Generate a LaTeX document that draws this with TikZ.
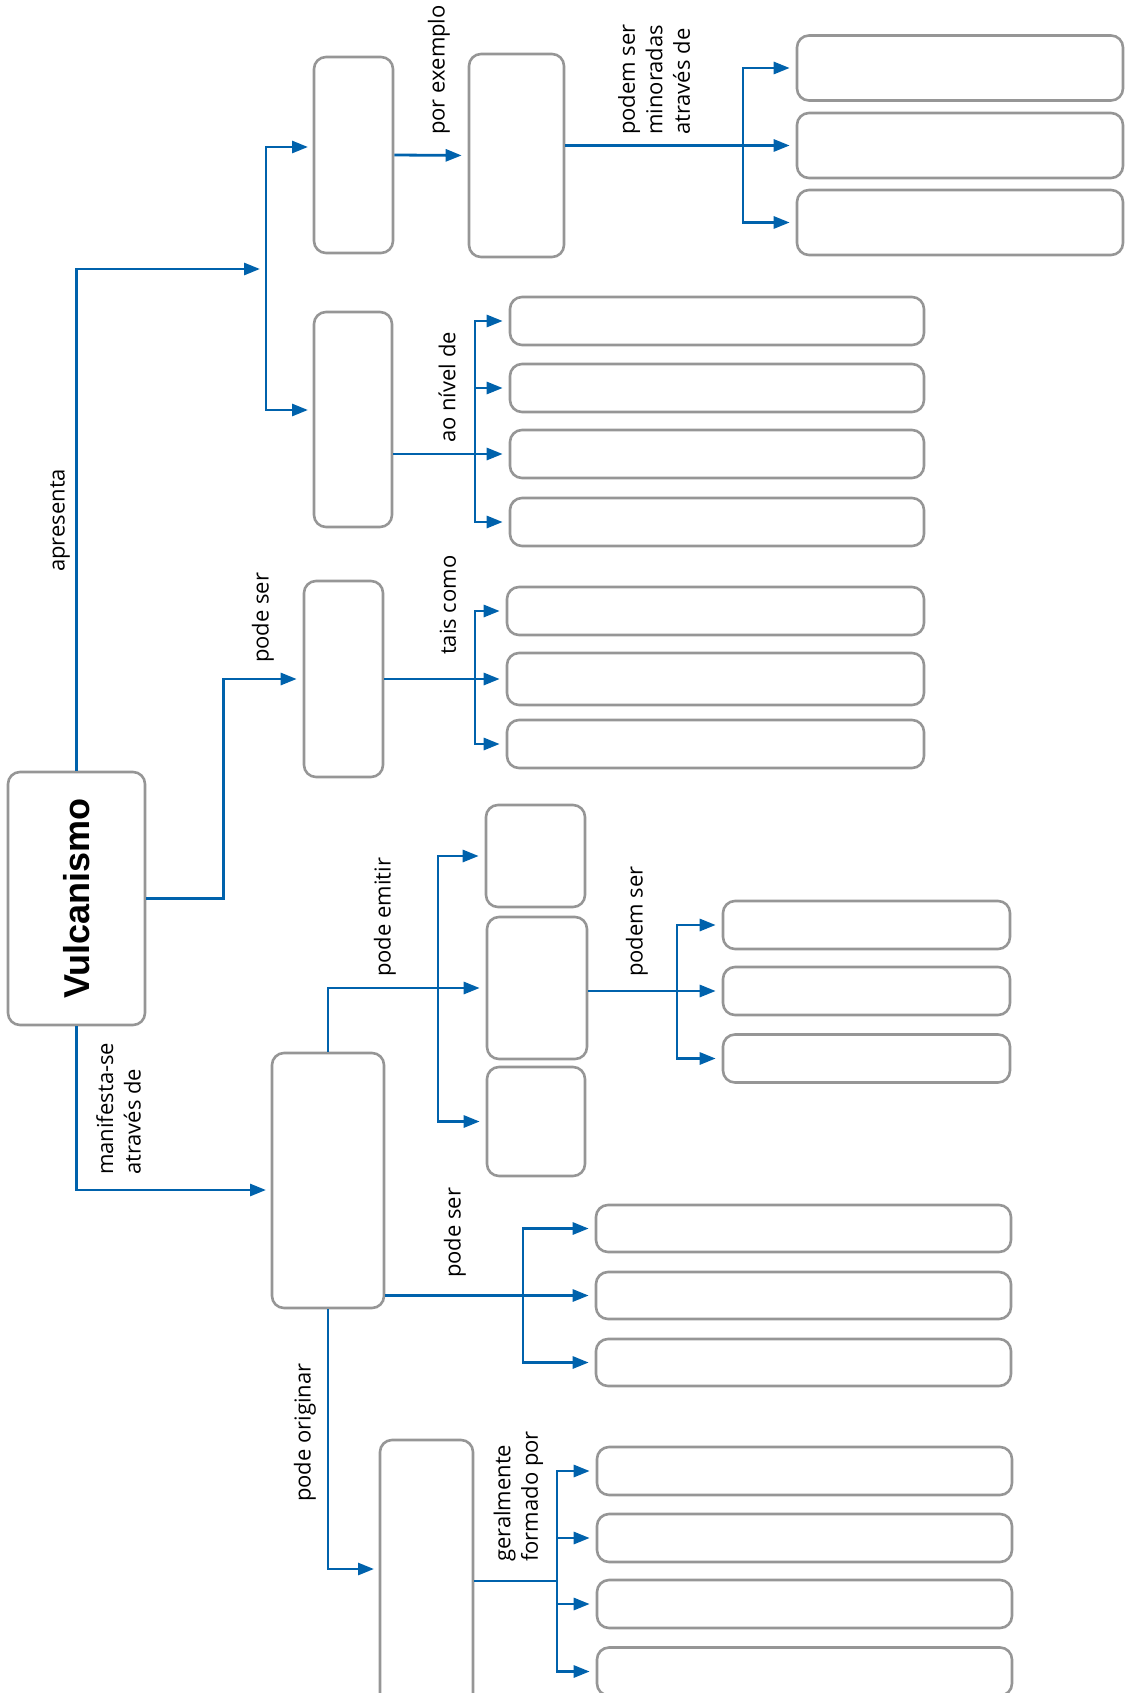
\documentclass[tikz,border=0pt]{standalone}
\usepackage{fontspec}
\setmainfont{Open Sans}
\newfontfamily\titlefont{Liberation Sans}
\usepackage{graphicx}
\usepackage{tikz}
\usetikzlibrary{arrows.meta,calc,positioning}

\definecolor{linkblue}{RGB}{0,98,172}
\definecolor{boxgray}{RGB}{150,150,150}
\newcommand{\lblfont}{\fontsize{22}{27.5}\selectfont}

\tikzset{
 box/.style={draw=boxgray, line width=2.6pt, rounded corners=12pt, inner sep=0pt},
 sz/.style 2 args={minimum width=#1, minimum height=#2},
 bline/.style={draw=linkblue, line width=2.8pt},
 arr/.style={bline, -{Triangle[length=16pt,width=12pt]}, shorten >=6pt},
 lbl/.style={rotate=90, anchor=west, inner sep=0pt, align=left, font=\lblfont},
}

\begin{document}
\begin{tikzpicture}[x=1pt, y=-1pt]
\useasboundingbox (0,0) rectangle (1125,1693);
\clip (0,0) rectangle (1125,1693);

% Main concept
\node[box, sz={137}{253}] (vulc) at (76.5,898.5)
 {\rotatebox{90}{\fontsize{36}{40}\titlefont\bfseries Vulcanismo}};

% Branch: apresenta
\node[box, sz={79}{196}] (a1) at (353.5,155) {};
\node[box, sz={78}{215}] (a2) at (353,419.5) {};
\node[box, sz={95}{203}] (a3) at (516.5,155.5) {};
\foreach \n/\y in {a/68, b/145.5, c/222.5}
 \node[box, sz={326}{65}] (a4\n) at (960,\y) {};
\foreach \n/\y in {a/321, b/388, c/454, d/522}
 \node[box, sz={414}{48}] (a5\n) at (717,\y) {};

\coordinate (ja) at (266,269);
\coordinate (a1in) at (314,147);
\coordinate (a2in) at (314,410);
\coordinate (sa4) at (743,0);
\coordinate (sa5) at (475,0);

\draw[arr] (vulc.north) |- (ja);
\draw[arr] (ja) |- (a1in);
\draw[arr] (ja) |- (a2in);
\draw[arr] (a1.east) -- (a3.west);
\draw[arr] (a3.east |- a4b) -- (a4b.west);
\foreach \n in {a,c}
 \draw[arr] (sa4 |- a4b) |- (a4\n.west);
\draw[arr] (a2.east |- a5c) -- (a5c.west);
\foreach \n in {a,b,d}
 \draw[arr] (sa5 |- a5c) |- (a5\n.west);

\node[lbl] (l-apr) at (60,572) {apresenta};
\node[lbl] (l-pex) at (439,135) {por exemplo};
\node[lbl] (l-min) at (654,135) {podem ser\\minoradas\\através de};
\node[lbl] (l-niv) at (447,443) {ao nível de};

% Branch: pode ser
\node[box, sz={79}{196}] (b1) at (343.5,679) {};
\foreach \n/\y/\h in {a/611/48, b/679/52, c/744/48}
 \node[box, sz={417}{\h}] (b2\n) at (715.5,\y) {};

\coordinate (jb) at (223.5,679);
\coordinate (sb2) at (475,0);

\draw[arr] (vulc.east) -| (jb) -- (b1.west);
\draw[arr] (b1.east) -- (b2b.west);
\foreach \n in {a,c}
 \draw[arr] (sb2 |- b2b) |- (b2\n.west);

\node[lbl] (l-pse1) at (263,663) {pode ser};
\node[lbl] (l-tai) at (448,655) {tais como};

% Branch: manifesta-se
\node[box, sz={112}{255}] (c1) at (328,1180.5) {};
\node[box, sz={99}{102}] (c2) at (535.5,856) {};
\node[box, sz={100}{142}] (c3) at (537,988) {};
\node[box, sz={98}{109}] (c4) at (536,1121.5) {};
\foreach \n/\y in {a/925, b/991, c/1058.5}
 \node[box, sz={287}{48}] (c5\n) at (866.5,\y) {};
\foreach \n/\y in {a/1228.5, b/1295.5, c/1362.5}
 \node[box, sz={415}{47}] (c6\n) at (803.5,\y) {};
\node[box, sz={93}{280}] (c7) at (426.5,1580) {};
\foreach \n/\y in {a/1471, b/1538, c/1604, d/1671.5}
 \node[box, sz={415}{48}] (c8\n) at (804.5,\y) {};

\coordinate (c1in) at (272,1190);
\coordinate (sc) at (438,0);
\coordinate (sc5) at (677,0);
\coordinate (sc6) at (523,0);
\coordinate (c7in) at (380,1569);
\coordinate (sc8) at (557,1581);

\draw[arr] (vulc.south) |- (c1in);
\draw[arr] (c1.north) |- (c3.west);
\foreach \n in {2,4}
 \draw[arr] (sc |- c3) |- (c\n.west);
\draw[arr] (c3.east |- c5b) -- (c5b.west);
\foreach \n in {a,c}
 \draw[arr] (sc5 |- c5b) |- (c5\n.west);
\draw[arr] (c1.east |- c6b) -- (c6b.west);
\foreach \n in {a,c}
 \draw[arr] (sc6 |- c6b) |- (c6\n.west);
\draw[arr] (c1.south) |- (c7in);
\draw[bline] (c7.east |- sc8) -- (sc8);
\foreach \n in {a,b,c,d}
 \draw[arr] (sc8) |- (c8\n.west);

\node[lbl] (l-man) at (118.5,1175) {manifesta-se\\através de};
\node[lbl] (l-emi) at (385,977) {pode emitir};
\node[lbl] (l-pdm) at (637,977) {podem ser};
\node[lbl] (l-pse2) at (455,1278) {pode ser};
\node[lbl] (l-ori) at (305,1502) {pode originar};
\node[lbl] (l-ger) at (518.5,1562) {geralmente\\formado por};
\end{tikzpicture}
\end{document}
